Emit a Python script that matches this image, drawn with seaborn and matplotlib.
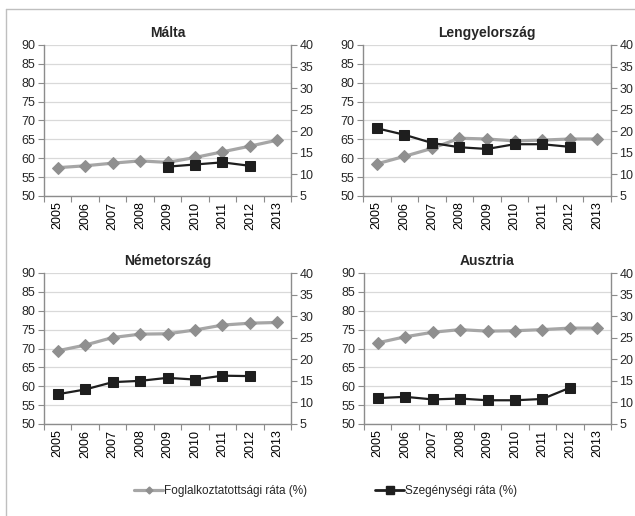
import numpy as np
import pandas as pd
import matplotlib
matplotlib.use("Agg")
import matplotlib.pyplot as plt
from matplotlib.lines import Line2D
import seaborn as sns

years = [2005, 2006, 2007, 2008, 2009, 2010, 2011, 2012, 2013]
countries = ["Málta", "Lengyelország", "Németország", "Ausztria"]

# Foglalkoztatottsági ráta (%) - left axis
malta_emp = [57.5, 58.0, 58.7, 59.3, 58.9, 60.2, 61.7, 63.2, 64.8]
poland_emp = [58.5, 60.5, 62.6, 65.3, 65.1, 64.6, 64.8, 65.1, 65.1]
germany_emp = [69.4, 70.9, 72.9, 73.8, 73.9, 74.9, 76.2, 76.7, 76.9]
austria_emp = [71.5, 73.1, 74.3, 75.0, 74.6, 74.7, 75.0, 75.4, 75.4]

# Szegénységi ráta (%) - right axis
malta_pov = [np.nan, np.nan, np.nan, np.nan, 11.8, 12.3, 12.8, 12.0, np.nan]
poland_pov = [20.7, 19.2, 17.3, 16.3, 15.9, 17.0, 17.0, 16.4, np.nan]
germany_pov = [11.9, 13.0, 14.7, 15.0, 15.7, 15.3, 16.2, 16.1, np.nan]
austria_pov = [11.0, 11.3, 10.7, 10.9, 10.5, 10.5, 10.8, 13.4, np.nan]

emp_label = "Foglalkoztatottsági ráta (%)"
pov_label = "Szegénységi ráta (%)"

emp_data = [malta_emp, poland_emp, germany_emp, austria_emp]
pov_data = [malta_pov, poland_pov, germany_pov, austria_pov]

sns.set_theme(style="white")
plt.rcParams["font.family"] = ["Liberation Sans", "DejaVu Sans"]

GRAY = "#a6a6a6"
GRAY_MK = "#8f8f8f"
BLACK = "#1e1e1e"
SPINE = "#8c8c8c"

fig = plt.figure(figsize=(6.35, 5.16), dpi=100)

W, H = 635, 516
boxes = [(44, 45, 291, 196), (363, 45, 611, 196),
         (44, 273, 291, 424), (364, 273, 611, 424)]

for name, emp, pov, (x0, y0, x1, y1) in zip(countries, emp_data, pov_data, boxes):
    ax = fig.add_axes([x0 / W, 1 - y1 / H, (x1 - x0) / W, (y1 - y0) / H])
    ax2 = ax.twinx()
    df = pd.DataFrame({"year": years, "emp": emp, "pov": pov})

    sns.lineplot(data=df, x="year", y="emp", ax=ax, color=GRAY, linewidth=2.3,
                 marker="D", markersize=6.5, markerfacecolor=GRAY_MK,
                 markeredgecolor=GRAY_MK, zorder=3)
    sns.lineplot(data=df.dropna(), x="year", y="pov", ax=ax2, color=BLACK,
                 linewidth=1.6, marker="s", markersize=6.5,
                 markerfacecolor=BLACK, markeredgecolor=BLACK, zorder=3)

    ax.set_xlim(2004.5, 2013.5)
    ax.set_ylim(50, 90)
    ax2.set_ylim(5, 40)
    ax.set_yticks(range(50, 91, 5))
    ax2.set_yticks(range(5, 41, 5))
    ax.set_xticks(years)
    ax.set_xticklabels([str(y) for y in years], rotation=90)
    ax.set_xticks(np.arange(2004.5, 2014, 1), minor=True)
    ax.tick_params(axis="x", which="major", length=0, pad=4, labelsize=9, colors="black")
    ax.tick_params(axis="x", which="minor", length=4, width=0.8, color=SPINE, bottom=True)
    ax.tick_params(axis="y", length=4, width=0.8, color=SPINE, labelsize=9, pad=2, left=True)
    ax2.tick_params(axis="y", length=4, width=0.8, color=SPINE, labelsize=9, pad=2, right=True)

    ax.yaxis.grid(True, color="#d9d9d9", linewidth=0.9)
    ax.set_axisbelow(True)
    ax.set_xlabel("")
    ax.set_ylabel("")
    ax2.set_ylabel("")

    for a in (ax, ax2):
        a.spines["top"].set_visible(False)
        for s in ("left", "right", "bottom"):
            a.spines[s].set_color(SPINE)
            a.spines[s].set_linewidth(1.0)
    ax.spines["right"].set_visible(False)
    ax2.spines["left"].set_visible(False)
    ax2.spines["bottom"].set_visible(False)

    ax.set_title(name, fontsize=10, fontweight="bold", pad=6)

handles = [
    Line2D([], [], color=GRAY, linewidth=2.3, marker="D", markersize=3.5,
           markerfacecolor=GRAY_MK, markeredgecolor=GRAY_MK),
    Line2D([], [], color=BLACK, linewidth=2.0, marker="s", markersize=6,
           markerfacecolor=BLACK, markeredgecolor=BLACK),
]
fig.legend(handles, [emp_label, pov_label], loc="center", ncol=2,
           bbox_to_anchor=(0.513, 1 - 491 / H), frameon=False, fontsize=8.5,
           handlelength=2.4, handletextpad=0.1, columnspacing=5.8)

# chart area border (only top and left visible)
fig.add_artist(Line2D([6 / W, 1], [1 - 9 / H, 1 - 9 / H], color="#bfbfbf", linewidth=1.0))
fig.add_artist(Line2D([6 / W, 6 / W], [1 - 9 / H, 0], color="#bfbfbf", linewidth=1.0))

fig.savefig("out.png", dpi=100)
